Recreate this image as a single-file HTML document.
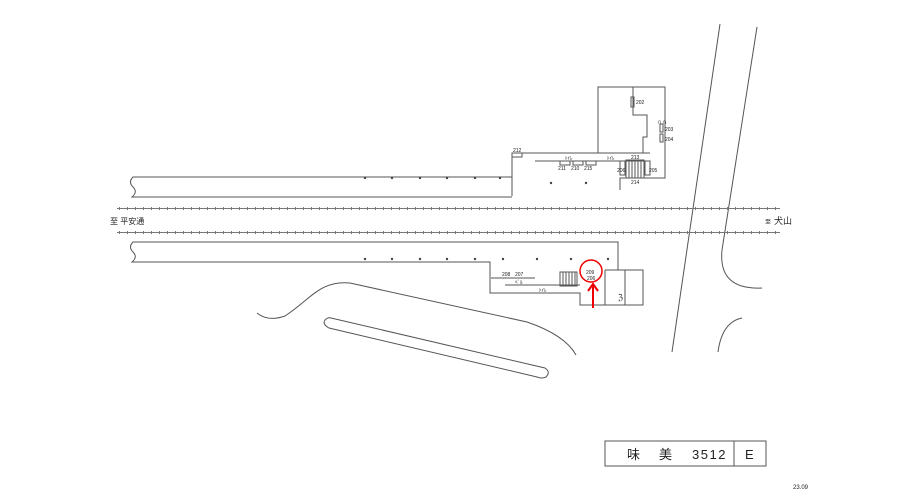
<!DOCTYPE html>
<html><head><meta charset="utf-8"><style>
body{margin:0;background:#fff}
svg{display:block}
text{font-family:"Liberation Sans","Noto Sans CJK JP",sans-serif;fill:#222}
</style></head><body>
<svg width="919" height="491" viewBox="0 0 919 491" xmlns="http://www.w3.org/2000/svg">
<g fill="none" stroke="#555" stroke-width="1">
<path d="M512,177 H133 q-5,5 0,10 q5,5 -1,10 H512"/>
<path d="M512,196 V177 V153 H650"/>
<path d="M598,153 V87 H665 V178 H620 V190"/>
<path d="M633,87 V115 H647 V137 H643 V153"/>
<path d="M535,161 H650"/>
<rect x="626" y="160" width="18" height="18"/>
<path d="M629,160v18M632,160v18M635,160v18M638,160v18M641,160v18"/>
<rect x="512" y="153" width="10" height="4"/>
<rect x="631" y="97" width="3" height="10"/>
<rect x="660" y="124" width="3" height="8"/><rect x="660" y="134" width="3" height="8"/>
<rect x="560" y="161" width="10" height="4"/><rect x="573" y="161" width="10" height="4"/><rect x="586" y="161" width="10" height="4"/>
<rect x="620" y="161" width="5" height="14"/><rect x="645" y="161" width="5" height="14"/>
<path d="M618,270 V242 H133 q-5,5 0,10 q5,5 -1,10 H490 V293 H580 V305 H643 V270 H605"/>
<path d="M605,270 V305 M625,270 V305"/>
<path d="M491,278 H535 M505,285 H580"/>
<rect x="560" y="272" width="17" height="14"/>
<path d="M563,272v14M566,272v14M569,272v14M572,272v14M575,272v14"/>
<path d="M720,24 L672,352"/>
<path d="M757,27 L722,250 Q718,290 762,288"/>
<path d="M742,318 Q722,322 718,352"/>
<path d="M257,313 Q268,322 285,316 C310,300 320,280 350,283 L527,322 Q565,335 576,355"/>
<path d="M331,318 L545,368 Q551,372 546,377 Q542,379 537,377 L329,328 Q322,324 325,320 Q328,317 331,318 Z"/>
<rect x="605" y="441" width="161" height="25"/>
<path d="M734,441 V466"/>
</g>
<g stroke="#777" stroke-width="1">
<path d="M117,208.5 H780 M117,232.5 H780"/>
</g>
<g stroke="#777" stroke-width="3" stroke-dasharray="1 7">
<path d="M119,208.5 H780 M119,232.5 H780"/>
</g>
<g fill="#444">
<circle cx="365" cy="178" r="1.2"/><circle cx="392" cy="178" r="1.2"/><circle cx="420" cy="178" r="1.2"/><circle cx="447" cy="178" r="1.2"/><circle cx="475" cy="178" r="1.2"/><circle cx="500" cy="178" r="1.2"/><circle cx="551" cy="183" r="1.2"/><circle cx="586" cy="183" r="1.2"/>
<circle cx="365" cy="259" r="1.2"/><circle cx="392" cy="259" r="1.2"/><circle cx="420" cy="259" r="1.2"/><circle cx="447" cy="259" r="1.2"/><circle cx="475" cy="259" r="1.2"/><circle cx="503" cy="259" r="1.2"/><circle cx="537" cy="259" r="1.2"/><circle cx="571" cy="259" r="1.2"/><circle cx="608" cy="259" r="1.2"/>
</g>
<g font-size="5">
<text x="636" y="104">202</text><text x="665" y="131">203</text><text x="665" y="141">204</text>
<text x="513" y="152">212</text><text x="558" y="170">211</text><text x="571" y="170">210</text><text x="584" y="170">215</text>
<text x="631" y="159">213</text><text x="631" y="184">214</text><text x="617" y="172">206</text><text x="649" y="172">205</text>
<text x="502" y="276">208</text><text x="515" y="276">207</text><text x="586" y="274">209</text><text x="587" y="280">206</text>
<text x="565" y="160">ﾄｲﾚ</text><text x="607" y="160">ﾄｲﾚ</text><text x="539" y="292">ﾄｲﾚ</text><text x="515" y="284">ﾍﾞﾙ</text>
</g>
<text x="657" y="124" font-size="7">∩∩</text>
<text x="618" y="300" font-size="8">ℨ</text>
<text x="110" y="224" font-size="8">至 平安通</text>
<text x="765" y="224" font-size="6">至</text><text x="774" y="224" font-size="9">犬山</text>
<text x="627" y="459" font-size="13">味</text>
<text x="659" y="459" font-size="13">美</text>
<text x="692" y="459" font-size="13" letter-spacing="1.5">3512</text>
<text x="745" y="459" font-size="13">E</text>
<text x="793" y="489" font-size="6">23.09</text>
<circle cx="591" cy="271" r="11" fill="none" stroke="#e00" stroke-width="1.5"/>
<path d="M593,308 V285 M588,291 L593,284 L598,291" fill="none" stroke="#e00" stroke-width="2"/>
</svg>
</body></html>
